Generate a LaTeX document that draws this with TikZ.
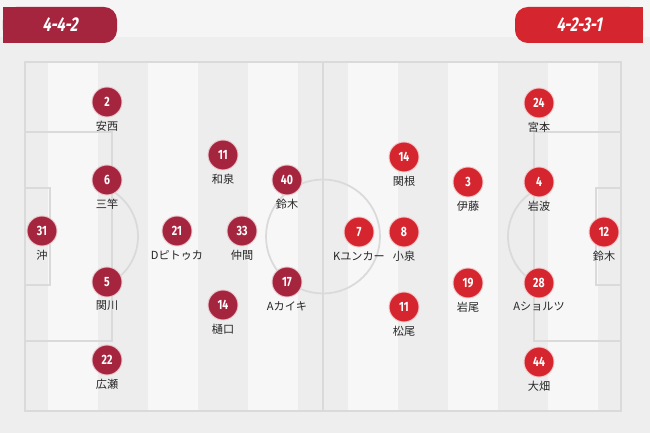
\documentclass[tikz,border=0pt]{standalone}
\usepackage{fontspec}
\setmainfont{Fira Sans}
\newfontfamily\jpfont{Noto Sans CJK JP}
\newfontfamily\numfont[FakeStretch=0.78]{Fira Sans}
\newfontfamily\tabfont[FakeStretch=0.74,FakeSlant=0.2]{Fira Sans}
\usetikzlibrary{positioning}
\definecolor{teamA}{HTML}{A6253E}
\definecolor{teamB}{HTML}{D5262F}
\definecolor{bgg}{HTML}{EEEEEE}
\definecolor{topg}{HTML}{F5F5F5}
\definecolor{lightst}{HTML}{F7F7F7}
\definecolor{darkst}{HTML}{EDEDED}
\definecolor{lineg}{HTML}{DADADA}

\begin{document}
\begin{tikzpicture}[x=0.03cm,y=-0.03cm,
    pline/.style={draw=lineg,line width=1.5pt},
    pA/.style={circle,fill=teamA,draw=teamA!25,line width=0.8pt,minimum size=0.9cm,inner sep=0pt,
      text=white,font=\numfont\bfseries\fontsize{11.5}{11.5}\selectfont},
    pB/.style={pA,fill=teamB,draw=teamB!25},
    pname/.style={font=\jpfont\fontsize{9.5}{10}\selectfont,text=black!85,inner sep=0pt},
    tabbox/.style={rounded corners=11pt,minimum width=3.42cm,minimum height=1.08cm,inner sep=0pt,
      text=white,font=\tabfont\bfseries\fontsize{17}{17}\selectfont}]
     \useasboundingbox (0,0) rectangle (650,433);
     % background
     \fill[bgg] (0,0) rectangle (650,433);
     \fill[topg] (0,0) rectangle (650,37);
     % formation tabs
     \fill[teamA] (3,7) rectangle (40,43);
     \node[tabbox,fill=teamA] (tabA) at (60,25) {4-4-2};
     \fill[teamB] (610,7) rectangle (643,43);
     \node[tabbox,fill=teamB,minimum width=3.84cm] (tabB) at (579,25) {4-2-3-1};
     % pitch stripes
     \fill[lightst] (25,62) rectangle (621,411);
     \fill[darkst] (25,62) rectangle (48,411);
     \fill[darkst] (98,62) rectangle (148,411);
     \fill[darkst] (198,62) rectangle (248,411);
     \fill[darkst] (298,62) rectangle (348,411);
     \fill[darkst] (398,62) rectangle (448,411);
     \fill[darkst] (498,62) rectangle (548,411);
     \fill[darkst] (598,62) rectangle (621,411);
     % pitch lines
     \draw[pline] (25,62) rectangle (621,411);
     \draw[pline] (323,62) -- (323,411);
     \draw[pline] (323,236.5) circle[radius=57];
     \draw[pline] (25,132) rectangle (112,341);
     \draw[pline] (25,188) rectangle (50,285);
     \draw[pline] (112,282.1) arc[start angle=59.4,end angle=-59.4,radius=53];
     \draw[pline] (534,132) rectangle (621,341);
     \draw[pline] (596,188) rectangle (621,285);
     \draw[pline] (534,282.1) arc[start angle=120.6,end angle=239.4,radius=53];
     % 4-4-2
     \node[pA] (a31) at (42,231) {31};
     \node[pname] (a31n) at (42,255) {沖};
     \node[pA] (a2) at (107,102) {2};
     \node[pname] (a2n) at (107,126) {安西};
     \node[pA] (a6) at (107,180) {6};
     \node[pname] (a6n) at (107,204) {三竿};
     \node[pA] (a5) at (107,282) {5};
     \node[pname] (a5n) at (107,306) {関川};
     \node[pA] (a22) at (107,360) {22};
     \node[pname] (a22n) at (107,384) {広瀬};
     \node[pA] (a21) at (177,231) {21};
     \node[pname] (a21n) at (177,255) {Dピトゥカ};
     \node[pA] (a11) at (223,155) {11};
     \node[pname] (a11n) at (223,179) {和泉};
     \node[pA] (a33) at (242,231) {33};
     \node[pname] (a33n) at (242,255) {仲間};
     \node[pA] (a14) at (223,305) {14};
     \node[pname] (a14n) at (223,329) {樋口};
     \node[pA] (a40) at (287,180) {40};
     \node[pname] (a40n) at (287,204) {鈴木};
     \node[pA] (a17) at (287,282) {17};
     \node[pname] (a17n) at (287,306) {Aカイキ};
     % 4-2-3-1
     \node[pB] (b7) at (359,232) {7};
     \node[pname] (b7n) at (359,256) {Kユンカー};
     \node[pB] (b14) at (404,157) {14};
     \node[pname] (b14n) at (404,181) {関根};
     \node[pB] (b8) at (404,232) {8};
     \node[pname] (b8n) at (404,256) {小泉};
     \node[pB] (b11) at (404,307) {11};
     \node[pname] (b11n) at (404,331) {松尾};
     \node[pB] (b3) at (468,182) {3};
     \node[pname] (b3n) at (468,206) {伊藤};
     \node[pB] (b19) at (468,283) {19};
     \node[pname] (b19n) at (468,307) {岩尾};
     \node[pB] (b24) at (539,103) {24};
     \node[pname] (b24n) at (539,127) {宮本};
     \node[pB] (b4) at (539,182) {4};
     \node[pname] (b4n) at (539,206) {岩波};
     \node[pB] (b28) at (539,283) {28};
     \node[pname] (b28n) at (539,307) {Aショルツ};
     \node[pB] (b44) at (539,362) {44};
     \node[pname] (b44n) at (539,386) {大畑};
     \node[pB] (b12) at (604,232) {12};
     \node[pname] (b12n) at (604,256) {鈴木};
\end{tikzpicture}
\end{document}
